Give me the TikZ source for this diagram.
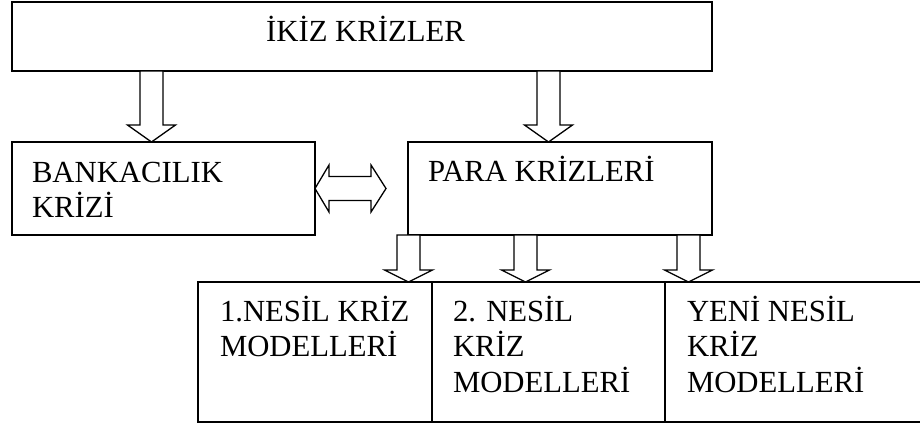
\documentclass[tikz,border=0pt]{standalone}
\usepackage{fontspec}
\setmainfont{Liberation Serif}
\usetikzlibrary{calc}

\tikzset{
  box/.style={draw, line width=1.3pt, inner sep=0pt, outer sep=0pt},
  lbl/.style={inner sep=0pt, outer sep=0pt, anchor=base west,
              font=\fontsize{30.7}{35}\selectfont},
  blockarrow/.style={draw, line width=1.3pt, line join=miter, fill=white}
}

% Hollow block arrow pointing down, from the bottom of #2 to the top of #3,
% centred on x = #1; #4 is the height of the head.
\newcommand\blockdown[4]{%
  \draw[blockarrow] let \p1=(#2.south), \p2=(#3.north) in
    ({(#1-11.5)*1pt},\y1) -- ({(#1+11.5)*1pt},\y1)
    -- ({(#1+11.5)*1pt},\y2+#4pt) -- ({(#1+24)*1pt},\y2+#4pt)
    -- ({#1*1pt},\y2) -- ({(#1-24)*1pt},\y2+#4pt)
    -- ({(#1-11.5)*1pt},\y2+#4pt) -- cycle;}

\newcommand\cell[1]{\begin{tabular}[t]{@{}l@{}}#1\end{tabular}}

\begin{document}
\begin{tikzpicture}[x=1pt, y=-1pt]
  \useasboundingbox (0,0) rectangle (920,423);

  % boxes
  \node[box, minimum width=700, minimum height=69] (top)  at (362,36.5) {};
  \node[box, minimum width=303, minimum height=93] (bank) at (163.5,188.5) {};
  \node[box, minimum width=304, minimum height=93] (para) at (560,188.5) {};
  \node[box, minimum width=234, minimum height=140] (m1) at (315,352) {};
  \node[box, minimum width=233, minimum height=140] (m2) at (548.5,352) {};
  \node[box, minimum width=256, minimum height=140] (m3) at (793,352) {};

  % texts
  \node[lbl, anchor=base] (ttop) at (365.5,41) {İKİZ KRİZLER};
  \node[lbl] (tbank) at (32,182) {\cell{BANKACILIK\\KRİZİ}};
  \node[lbl] (tpara) at (428,181) {PARA KRİZLERİ};
  \node[lbl] (tm1) at (220,321) {\cell{1.NESİL KRİZ\\MODELLERİ}};
  \node[lbl] (tm2) at (453,321) {\cell{2. NESİL\\KRİZ\\MODELLERİ}};
  \node[lbl] (tm3) at (687,321) {\cell{YENİ NESİL\\KRİZ\\MODELLERİ}};

  % block arrows
  \blockdown{151.5}{top}{bank}{17}
  \blockdown{548.5}{top}{para}{17}
  \blockdown{408.5}{para}{m1}{12}
  \blockdown{525.5}{para}{m2}{12}
  \blockdown{688.5}{para}{m3}{12}

  % two-way arrow between the two crisis types
  \coordinate (dbl) at (386,188.5);
  \draw[blockarrow] let \p1=(bank.east), \p2=(dbl) in
    (\x1,\y1) -- (\x1+14pt,\y1+23.5pt) -- (\x1+14pt,\y1+12pt)
    -- (\x2-15pt,\y1+12pt) -- (\x2-15pt,\y1+23.5pt) -- (\x2,\y2)
    -- (\x2-15pt,\y1-23.5pt) -- (\x2-15pt,\y1-12pt)
    -- (\x1+14pt,\y1-12pt) -- (\x1+14pt,\y1-23.5pt) -- cycle;
\end{tikzpicture}
\end{document}
